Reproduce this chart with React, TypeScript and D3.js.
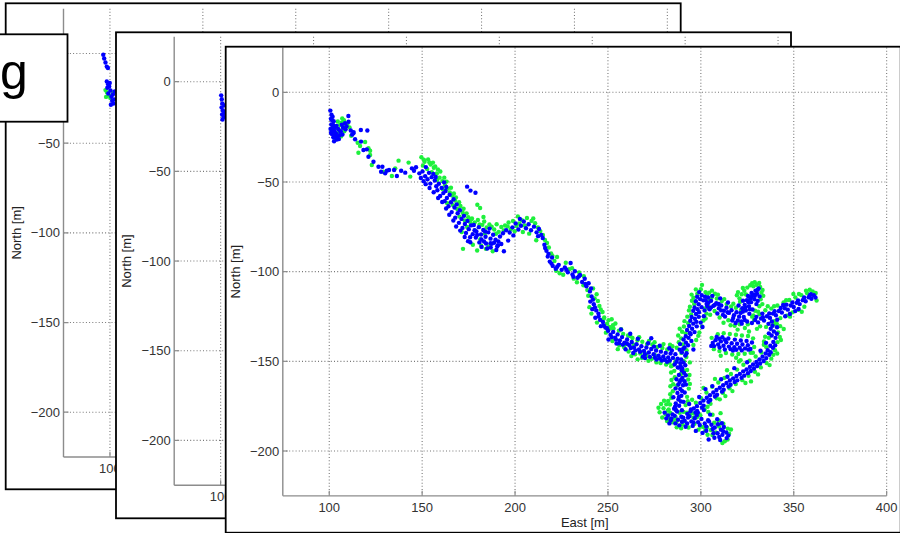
import React from 'react';
import * as d3 from 'd3';

type Pt = [number, number]; // [east, north] in metres

const eastTicks = [100, 150, 200, 250, 300, 350, 400];
const northTicks = [0, -50, -100, -150, -200];
const eastDomain: [number, number] = [75, 400];
const northDomain: [number, number] = [-225, 25];

// Run 1 (back sheet): only the start of the track is visible
const run1Blue: Pt[] = [
  [96.4, -0.7], [96.9, -2.8], [97.6, -5.0], [98.3, -7.3], [98.9, -8.1],
  [98.3, -15.6], [99.0, -17.2], [98.6, -19.1], [99.6, -18.4], [100.3, -20.6],
  [99.1, -22.3], [100.8, -24.1], [101.6, -22.8], [102.3, -25.6], [101.9, -27.9],
  [102.6, -21.2], [99.9, -16.4], [100.5, -28.6], [101.2, -26.4],
];
const run1Green: Pt[] = [
  [97.6, -20.4], [98.4, -21.7], [99.3, -23.3], [100.6, -23.6], [101.8, -21.7], [100.2, -24.8], [97.9, -24.2],
];

// Run 2 (middle sheet)
const run2Blue: Pt[] = [
  [100.3, -7.6], [100.6, -9.8], [100.9, -12.1], [100.5, -14.4], [101.2, -16.0],
  [100.8, -18.3], [101.6, -19.7], [101.0, -21.1], [102.0, -13.2], [101.9, -17.4],
];

// Run 3 (front sheet): full track, two position estimates
const run3Blue: Pt[] = [
  // start cluster
  [100.6, -10.2], [101.2, -12.5], [100.9, -14.8], [101.8, -13.6], [102.4, -16.1], [101.1, -17.9], [100.7, -20.4],
  [101.9, -19.3], [102.8, -21.6], [101.4, -23.2], [102.2, -25.1], [103.3, -24.4], [104.1, -26.3], [103.6, -22.8],
  [104.8, -20.5], [103.9, -18.7], [105.6, -23.9], [106.2, -21.7], [107.4, -19.8], [108.5, -17.2], [109.3, -18.9],
  [110.4, -16.4], [108.8, -20.6], [107.1, -23.5], [105.2, -26.1], [106.8, -18.1], [110.3, -13.2], [111.6, -21.3],
  [112.3, -23.6], [113.1, -22.2], [117.0, -21.0], [120.5, -21.3], [102.6, -27.3], [100.9, -22.6], [103.0, -19.6],
  [101.5, -15.6], [102.1, -18.2], [101.6, -21.2], [102.9, -23.9], [104.4, -24.6], [105.9, -21.9],
  // sparse trail
  [113.0, -22.9], [113.9, -26.2], [117.1, -27.5], [118.4, -32.2], [120.2, -31.8], [121.1, -35.9], [123.8, -38.7],
  [126.5, -41.5], [128.6, -41.5], [131.0, -43.7], [130.1, -45.2], [134.9, -43.3], [138.7, -43.7], [140.9, -44.8],
  [144.5, -42.4], [146.7, -41.8], [145.6, -43.7], [136.4, -46.7], [127.9, -44.3], [132.2, -43.3],
  // descent to 175 E
  [148.5, -45.2], [150.2, -44.1], [151.6, -46.8], [152.9, -48.5], [150.8, -49.6], [153.7, -44.9], [155.1, -47.3],
  [154.4, -50.9], [156.8, -49.2], [157.6, -52.4], [159.0, -51.0], [158.2, -54.6], [160.5, -53.3], [161.4, -56.2],
  [159.7, -57.8], [162.6, -55.0], [163.3, -58.9], [164.8, -57.1], [162.1, -60.7], [165.5, -61.3], [164.2, -63.5],
  [166.9, -59.6], [167.4, -64.2], [165.9, -66.8], [168.6, -62.5], [169.1, -67.4], [167.8, -69.9], [170.3, -65.8],
  [171.2, -70.6], [169.8, -72.8], [172.5, -68.9], [173.0, -73.4], [171.7, -75.6], [174.4, -71.7], [175.1, -76.3],
  [173.6, -78.4], [176.3, -74.2], [177.2, -79.1], [175.8, -80.8], [152.0, -41.7], [156.0, -45.5], [161.8, -50.2],
  [174.2, -52.6], [178.7, -56.0], [176.0, -54.8],
  [149.3, -47.8], [151.9, -51.2], [154.0, -53.4], [156.2, -55.7], [158.6, -58.9], [160.8, -61.2], [162.9, -64.8],
  [164.6, -68.3], [166.8, -71.5], [168.3, -74.8], [170.5, -77.1], [172.9, -80.7], [174.7, -83.0], [157.3, -47.2],
  [163.0, -52.8],
  // shelf at -78 N
  [177.8, -74.0], [179.2, -77.6], [180.5, -75.2], [181.7, -79.3], [182.9, -76.8], [184.1, -80.5], [183.3, -83.2],
  [185.6, -78.1], [186.8, -81.6], [188.2, -79.4], [187.4, -84.5], [189.5, -82.2], [190.8, -85.3], [178.9, -81.0],
  [180.8, -83.7], [182.0, -86.2], [185.0, -87.1], [191.9, -80.4], [193.5, -78.6], [195.2, -76.9], [197.1, -78.2],
  [198.6, -75.3], [200.3, -73.1], [201.8, -76.5], [203.2, -74.4], [204.7, -72.0], [205.9, -75.8], [207.3, -73.6],
  [208.6, -76.9], [210.2, -74.9], [211.6, -78.1], [212.9, -76.2], [214.1, -79.5], [194.0, -88.6], [202.6, -70.6],
  [189.9, -87.9], [196.3, -82.7], [199.1, -79.8], [175.9, -83.6], [186.3, -76.0], [190.4, -86.0], [186.8, -84.2],
  [179.6, -79.5], [181.9, -82.1], [184.4, -84.3], [186.9, -86.6], [188.7, -83.9], [191.0, -83.1], [192.6, -84.6],
  [183.9, -77.6], [178.2, -76.9],
  // descent to the junction
  [214.9, -81.2], [215.8, -85.0], [216.9, -88.4], [217.6, -91.6], [218.7, -94.4], [220.3, -96.8], [221.9, -98.4],
  [223.5, -96.2], [225.1, -99.0], [226.8, -97.6], [228.4, -100.3], [229.9, -95.2], [230.9, -101.6], [232.2, -99.8],
  [233.6, -103.4], [235.0, -101.9], [236.1, -105.8], [237.5, -104.0], [238.4, -108.1], [239.6, -106.5], [240.3, -111.0],
  [241.2, -113.8], [240.5, -116.7], [242.4, -118.2], [241.6, -120.9], [243.7, -121.6], [244.9, -123.4], [243.2, -125.7],
  [245.8, -126.9], [247.3, -128.1], [246.2, -130.4], [248.6, -131.2], [250.1, -133.0], [212.4, -80.2], [219.9, -92.1],
  [216.2, -86.8], [218.0, -90.1], [219.6, -95.5], [222.7, -97.3], [227.6, -98.9], [231.4, -102.9], [234.4, -102.6],
  [237.9, -106.9], [240.9, -109.3], [241.9, -115.6], [243.0, -119.9], [245.0, -125.0], [247.8, -130.0], [249.5, -131.6],
  [251.4, -135.2], [252.8, -133.6], [253.9, -136.8], [255.2, -135.0], [256.4, -138.3], [257.6, -136.5], [258.9, -139.6],
  [260.3, -137.8], [261.5, -141.0], [262.8, -139.2], [264.0, -142.3], [265.4, -140.5], [266.7, -143.4], [268.0, -141.6],
  [269.4, -144.2], [270.7, -142.3], [272.0, -145.1], [273.3, -143.1], [274.6, -146.0], [275.9, -144.0], [277.2, -146.8],
  [278.5, -144.6], [279.8, -147.3], [281.1, -145.3], [282.4, -147.8], [283.7, -145.6], [285.0, -148.1], [286.3, -146.0],
  [287.5, -148.6], [273.3, -137.1], [259.5, -143.3], [263.6, -145.4], [268.8, -147.4], [276.1, -149.0], [281.8, -150.2],
  [285.9, -151.8], [288.2, -153.5], [254.6, -140.1], [266.1, -137.4], [271.6, -139.9], [277.9, -141.3], [283.0, -142.7],
  [288.6, -143.5], [257.0, -132.2], [262.0, -134.6], [250.3, -137.8], [279.0, -149.6], [270.0, -148.2], [284.4, -144.0],
  [274.8, -141.8],
  [252.0, -136.5], [254.3, -137.9], [256.0, -139.9], [258.0, -140.7], [260.2, -140.1], [262.3, -142.6], [264.8, -143.9],
  [267.3, -144.7], [269.9, -146.0], [272.6, -147.5], [275.3, -147.9], [278.0, -148.4], [280.6, -149.1], [283.3, -149.5],
  [286.9, -150.3], [289.4, -148.9], [290.6, -150.6],
  // northward branch
  [289.8, -144.9], [291.2, -142.3], [292.0, -139.6], [290.7, -137.8], [293.4, -136.9], [294.1, -134.2], [292.6, -132.5],
  [295.3, -131.8], [295.9, -129.0], [294.3, -127.4], [296.8, -126.3], [297.4, -123.6], [295.9, -121.8], [298.2, -120.9],
  [298.8, -118.2], [297.3, -116.5], [299.6, -115.3], [300.5, -113.2], [301.3, -116.0], [299.1, -111.4], [293.1, -141.0],
  [296.6, -133.7], [298.9, -125.2], [300.4, -119.8], [291.6, -146.8], [294.9, -138.6], [297.8, -130.5], [302.0, -121.6],
  [301.6, -124.8], [288.8, -140.4], [303.1, -118.0], [296.0, -143.4], [299.9, -128.4], [300.9, -130.9], [302.2, -113.9],
  [290.5, -143.0], [291.9, -136.0], [293.7, -130.3], [295.0, -125.3], [296.6, -120.0], [298.0, -114.0], [297.6, -128.0],
  [299.0, -122.6], [294.5, -134.9], [292.3, -145.5],
  // top edge of the loop
  [302.6, -115.9], [304.1, -117.3], [305.5, -116.2], [306.8, -119.0], [308.3, -117.6], [309.7, -120.4], [311.0, -118.9],
  [312.4, -121.8], [313.8, -120.1], [315.1, -123.0], [316.5, -121.5], [317.8, -124.3], [319.2, -122.6], [320.6, -125.1],
  [304.7, -121.0], [308.9, -123.3], [313.0, -125.0], [316.9, -127.2], [310.4, -114.9], [306.2, -113.5], [318.7, -128.6],
  [321.8, -127.7], [303.5, -119.4], [311.9, -124.1], [314.6, -117.2],
  [303.9, -114.4], [307.5, -118.5], [310.9, -121.6], [314.4, -122.6], [317.4, -125.8], [319.9, -127.2], [305.5, -119.9],
  [309.6, -118.0],
  // spur to the north-east
  [321.4, -123.0], [322.3, -120.4], [323.6, -118.5], [322.7, -116.2], [324.8, -115.9], [325.4, -113.6], [326.7, -114.8],
  [327.3, -111.9], [328.5, -112.8], [329.4, -110.6], [330.2, -112.3], [331.1, -109.4], [324.2, -121.7], [325.9, -119.2],
  [327.0, -117.0], [328.8, -115.4], [323.1, -125.3], [326.1, -123.5], [329.9, -118.1], [320.3, -118.9], [331.6, -113.8],
  [322.0, -129.0], [324.9, -127.8], [327.8, -121.1], [330.6, -116.3],
  [322.6, -122.3], [324.0, -119.9], [325.5, -116.9], [327.4, -114.0], [329.1, -113.5], [330.6, -110.1], [323.6, -127.0],
  [326.4, -120.9],
  // eastern arm
  [327.5, -128.6], [329.2, -127.0], [330.8, -128.3], [332.4, -126.1], [334.0, -127.2], [335.6, -124.9], [337.2, -125.8],
  [338.8, -123.4], [340.4, -124.3], [342.0, -121.9], [343.6, -122.8], [345.2, -120.4], [346.8, -121.2], [348.4, -118.9],
  [350.0, -119.7], [351.6, -117.4], [353.2, -118.1], [354.8, -115.9], [356.4, -116.5], [358.0, -114.3], [359.5, -115.1],
  [360.8, -113.2], [361.7, -114.4], [359.2, -112.6], [336.4, -129.1], [341.1, -126.8], [347.9, -123.6], [352.6, -120.8],
  [333.1, -123.4], [344.3, -118.6],
  [329.9, -125.2], [333.4, -125.4], [336.8, -123.3], [339.7, -122.1], [343.0, -120.3], [346.1, -118.4], [349.3, -117.2],
  [352.3, -116.1], [355.6, -114.4], [358.7, -113.1], [338.2, -127.8], [345.4, -124.9], [350.8, -122.0],
  // south-west return
  [337.6, -131.8], [339.3, -133.4], [338.1, -135.6], [340.2, -136.9], [339.0, -139.2], [337.4, -141.3], [338.8, -142.5],
  [336.0, -143.8], [334.9, -145.6], [336.8, -146.3], [333.2, -147.4], [331.6, -148.9], [333.8, -149.8], [329.9, -150.4],
  [328.1, -151.8], [330.3, -152.6], [326.4, -153.1], [324.6, -154.5], [326.9, -155.4], [322.8, -155.6], [321.0, -157.0],
  [323.3, -158.0], [319.2, -158.2], [317.4, -159.5], [319.6, -160.6], [315.6, -160.7], [313.8, -162.1], [316.0, -163.1],
  [312.0, -163.3], [310.2, -164.7], [312.3, -165.8], [308.4, -166.0], [306.7, -167.4], [308.7, -168.6], [304.9, -168.9],
  [303.2, -170.3], [305.1, -171.6], [301.4, -171.9], [299.7, -173.2], [301.5, -174.7], [297.9, -175.0], [296.2, -176.3],
  [298.0, -177.7], [294.4, -177.9], [292.7, -179.3], [341.0, -131.0], [335.1, -139.7], [318.0, -153.8], [310.9, -160.0],
  [302.5, -165.5],
  [338.6, -130.1], [340.9, -134.6], [340.0, -141.1], [337.6, -144.9], [335.2, -148.2], [331.9, -151.2], [328.6, -154.0],
  [325.3, -156.6], [321.9, -159.2], [318.2, -161.5], [314.9, -164.1], [311.4, -166.9], [307.6, -169.6], [304.1, -172.5],
  [300.6, -175.8], [297.1, -178.6], [293.8, -180.6], [336.6, -134.4], [332.1, -144.1], [324.9, -150.5], [314.3, -158.6],
  [306.2, -163.8], [299.1, -169.9],
  // inner arm
  [306.4, -139.8], [307.9, -138.2], [309.3, -140.6], [310.8, -138.9], [312.2, -141.3], [313.7, -139.4], [315.1, -141.8],
  [316.6, -139.9], [318.0, -142.1], [319.5, -140.2], [320.9, -142.4], [322.4, -140.6], [323.8, -142.8], [325.3, -141.0],
  [326.7, -143.1], [308.5, -136.4], [311.6, -136.6], [314.8, -137.3], [318.3, -137.9], [321.5, -138.4], [324.6, -138.6],
  [327.5, -139.5], [305.6, -141.4], [317.3, -144.0], [312.9, -143.4],
  [307.1, -141.5], [310.1, -142.3], [313.0, -138.0], [316.0, -143.2], [319.1, -143.6], [322.0, -143.9], [325.6, -143.5],
  [309.9, -137.4],
  // southward branch
  [288.9, -151.0], [287.6, -153.4], [289.7, -155.1], [288.2, -157.6], [290.1, -159.2], [288.6, -161.5], [290.4, -163.3],
  [288.9, -165.4], [287.4, -167.6], [289.5, -169.2], [287.9, -171.3], [286.5, -173.5], [288.3, -174.8], [285.6, -176.4],
  [287.2, -178.0], [291.6, -152.2], [291.9, -157.8], [292.0, -162.9], [286.9, -160.0], [286.4, -165.1], [291.3, -167.4],
  [285.2, -170.0], [290.7, -172.6], [284.8, -179.6], [289.8, -177.3],
  [289.2, -152.9], [290.9, -156.4], [289.4, -160.3], [291.2, -161.1], [289.9, -166.5], [288.2, -169.9], [289.3, -172.4],
  [286.1, -175.3], [287.9, -162.9], [290.0, -154.0],
  // southern end
  [280.5, -178.6], [282.3, -180.2], [284.1, -181.8], [285.9, -180.4], [287.7, -182.6], [289.5, -180.9], [291.3, -183.1],
  [293.1, -181.3], [294.9, -183.5], [296.7, -181.7], [298.5, -183.9], [300.3, -182.1], [302.1, -184.6], [303.9, -182.8],
  [305.7, -185.4], [307.5, -186.9], [309.2, -185.1], [310.8, -188.1], [312.4, -186.6], [313.7, -189.7], [311.6, -191.0],
  [313.9, -192.8], [309.9, -192.2], [306.8, -190.1], [304.2, -193.6], [302.9, -188.7], [305.0, -179.7], [301.6, -177.2],
  [298.4, -178.6], [294.7, -176.9], [295.6, -186.0], [291.8, -186.5], [288.4, -185.7], [283.1, -184.6], [286.6, -177.1],
  [293.7, -173.8], [308.8, -182.3], [311.3, -184.5], [300.9, -189.9], [297.3, -188.8],
  [281.4, -181.8], [283.8, -182.9], [286.3, -184.6], [289.8, -183.7], [292.6, -184.7], [296.0, -184.1], [299.4, -185.5],
  [302.9, -186.4], [306.4, -187.7], [309.0, -190.1], [312.0, -189.0], [314.8, -191.3], [310.4, -193.9], [307.3, -192.6],
  [304.4, -183.5], [297.8, -180.1], [290.5, -181.4],
];

const run3Green: Pt[] = [
  // start cluster
  [104.6, -16.3], [105.8, -18.2], [106.7, -16.9], [107.9, -15.6], [108.6, -18.8], [109.8, -17.5], [105.1, -20.8],
  [104.2, -22.9], [106.3, -24.6], [103.8, -25.8], [102.7, -23.5], [110.9, -19.6], [111.8, -24.2], [108.1, -21.7],
  [107.0, -14.6],
  // sparse trail
  [115.3, -28.1], [119.3, -27.7], [115.7, -33.7], [122.0, -32.6], [122.0, -35.0], [122.9, -40.5], [129.2, -44.3],
  [135.5, -42.4], [137.3, -38.1], [142.7, -39.2], [143.6, -47.0], [133.7, -46.7], [121.1, -31.2], [116.6, -29.9],
  // descent to 175 E
  [149.6, -36.2], [151.3, -38.7], [153.2, -37.4], [150.4, -40.9], [154.6, -40.3], [152.7, -42.8], [156.3, -42.1],
  [155.2, -44.6], [157.9, -45.3], [159.4, -47.6], [158.1, -48.9], [160.9, -49.5], [162.3, -51.8], [161.0, -53.9],
  [163.8, -53.7], [164.9, -55.9], [163.5, -61.8], [166.2, -57.6], [167.7, -60.3], [166.6, -62.9], [168.9, -65.1],
  [170.6, -63.4], [171.8, -67.2], [170.1, -69.3], [172.9, -71.4], [174.8, -69.7], [176.0, -72.8], [174.2, -75.1],
  [171.3, -77.9], [178.5, -77.0], [179.7, -62.7], [181.2, -64.5], [158.5, -43.0], [155.8, -39.2], [172.0, -87.3],
  [150.9, -37.6], [153.9, -39.1], [157.0, -41.3], [159.8, -44.2], [161.9, -47.6], [163.2, -49.8], [165.5, -53.2],
  [167.1, -56.4], [168.2, -58.6], [169.9, -61.3], [172.3, -64.9], [173.9, -67.5], [176.8, -70.4],
  // shelf at -78 N
  [176.4, -70.8], [178.3, -72.5], [180.0, -71.2], [182.4, -73.9], [184.7, -75.4], [181.3, -81.9], [183.8, -78.7],
  [186.2, -73.7], [188.8, -76.5], [191.2, -77.8], [192.6, -75.1], [177.3, -85.0], [179.6, -88.2], [185.8, -85.9],
  [188.0, -88.6], [194.6, -74.3], [196.5, -72.6], [198.9, -71.8], [200.8, -74.6], [203.7, -71.3], [206.4, -70.1],
  [208.9, -71.7], [210.8, -73.0], [207.6, -78.8], [212.3, -75.4], [199.8, -77.5], [197.7, -76.4], [190.1, -73.6],
  [183.0, -69.5], [204.2, -77.9],
  [180.9, -73.7], [183.4, -72.0], [187.4, -74.9], [189.8, -78.9], [193.9, -77.0], [196.0, -74.8], [202.2, -73.1],
  [205.2, -74.3], [209.8, -70.3], [201.5, -69.2], [181.8, -85.6], [184.3, -87.3],
  // descent to the junction
  [213.6, -77.4], [216.1, -82.3], [218.2, -86.5], [219.4, -89.8], [221.2, -94.1], [224.0, -100.9], [227.3, -95.0],
  [229.1, -98.6], [231.6, -103.9], [234.5, -100.4], [236.8, -107.6], [238.9, -110.3], [242.0, -109.4], [243.9, -112.6],
  [244.6, -116.4], [242.8, -114.9], [245.4, -119.1], [247.1, -122.5], [244.1, -128.4], [248.0, -125.6], [249.5, -129.0],
  [251.3, -131.6], [240.0, -119.8], [222.6, -91.8], [211.4, -82.5],
  [215.0, -79.6], [217.2, -84.0], [220.1, -91.2], [222.1, -99.5], [225.9, -101.7], [230.7, -98.1], [233.3, -105.9],
  [237.0, -102.5], [239.4, -113.4], [241.1, -123.4], [246.1, -121.1], [250.3, -127.1],
  [250.8, -130.8], [253.0, -131.7], [255.9, -132.9], [258.2, -134.7], [260.8, -135.6], [263.2, -137.0], [265.9, -138.3],
  [268.5, -139.1], [271.0, -140.4], [273.9, -140.6], [276.5, -142.0], [279.3, -142.6], [281.9, -143.4], [284.7, -141.6],
  [287.0, -142.4], [252.4, -138.7], [256.1, -141.1], [258.6, -142.0], [261.1, -144.5], [264.6, -146.1], [267.4, -145.7],
  [270.9, -147.0], [273.6, -148.6], [277.0, -148.2], [280.4, -148.9], [282.9, -150.7], [286.6, -149.6], [275.2, -146.4],
  [269.7, -145.2], [260.0, -140.4], [289.5, -145.3], [254.0, -128.9], [248.9, -134.0], [278.3, -150.9], [263.9, -140.8],
  [291.0, -155.5], [284.0, -152.8], [252.0, -126.5], [266.0, -148.9], [247.7, -126.2],
  [252.7, -129.9], [257.1, -132.1], [262.0, -135.9], [266.8, -136.6], [272.1, -138.7], [275.1, -139.4], [279.9, -140.4],
  [283.4, -140.8], [255.3, -143.2], [262.6, -147.1], [268.3, -148.1], [271.8, -149.7], [276.1, -150.6], [281.3, -151.8],
  // northward branch
  [290.4, -140.6], [289.4, -137.2], [291.8, -134.4], [290.9, -130.6], [293.2, -128.8], [292.7, -125.1], [294.8, -123.9],
  [294.1, -119.6], [296.4, -118.1], [296.0, -114.5], [298.1, -112.3], [300.0, -109.8], [302.5, -111.4], [297.5, -138.1],
  [299.2, -133.9], [301.4, -127.2], [303.0, -123.4], [304.2, -120.6], [287.8, -135.6], [288.6, -131.8], [292.3, -143.8],
  [304.8, -116.1], [300.6, -107.4], [295.2, -116.2], [298.6, -135.8],
  [288.1, -139.3], [289.9, -133.5], [291.2, -127.6], [293.6, -121.6], [295.0, -112.8], [297.3, -109.9], [300.6, -130.6],
  [302.6, -126.1], [303.9, -119.3], [296.0, -140.9],
  // top edge of the loop
  [303.3, -112.9], [305.9, -114.1], [308.6, -115.0], [311.3, -116.4], [313.9, -118.1], [316.3, -119.4], [318.9, -120.1],
  [307.4, -121.9], [310.1, -125.6], [314.8, -127.1], [318.2, -130.2], [320.9, -129.3], [305.0, -124.0], [312.2, -128.5],
  [306.0, -110.6], [321.6, -121.3], [309.2, -112.8], [302.1, -120.5], [316.0, -129.9], [319.8, -132.3],
  [304.5, -111.7], [307.6, -112.3], [312.6, -115.3], [317.5, -117.9],
  // spur to the north-east
  [320.8, -114.9], [322.0, -112.6], [323.4, -110.7], [325.0, -108.9], [326.6, -107.6], [328.3, -108.2], [330.0, -107.3],
  [331.9, -108.5], [332.6, -111.7], [332.2, -115.4], [331.5, -119.3], [329.2, -121.8], [327.6, -125.1], [325.3, -129.3],
  [323.7, -131.4], [321.1, -116.8], [319.4, -113.2], [333.2, -110.2], [329.0, -105.9], [326.3, -116.3], [324.3, -112.7],
  [328.6, -127.0],
  [320.0, -111.4], [322.6, -109.1], [327.6, -106.4], [331.4, -106.3], [333.6, -113.5], [333.1, -118.1], [330.8, -122.3],
  // eastern arm
  [328.3, -124.4], [331.6, -123.7], [334.7, -121.5], [337.9, -120.6], [341.2, -118.9], [344.5, -117.2], [347.6, -115.8],
  [350.9, -114.4], [354.1, -113.1], [357.2, -112.0], [339.6, -127.6], [342.8, -125.9], [346.1, -124.5], [349.3, -122.7],
  [352.5, -121.3], [355.7, -119.6], [331.9, -130.5], [335.1, -130.8], [325.9, -133.4], [330.2, -131.9], [338.4, -130.2],
  [356.6, -110.6], [360.2, -111.0], [349.8, -112.5], [336.0, -119.3],
  [339.4, -119.3], [345.9, -115.9], [352.8, -112.5], [358.6, -110.1], [340.9, -129.2], [348.0, -125.1], [354.3, -122.4],
  [361.8, -111.9], [362.3, -116.1],
  // south-west return
  [339.4, -129.0], [341.6, -133.9], [341.2, -139.3], [339.9, -143.8], [337.9, -148.5], [335.4, -150.9], [332.3, -153.4],
  [329.1, -155.8], [325.7, -158.1], [322.3, -160.5], [318.8, -162.7], [315.4, -165.0], [311.9, -167.6], [308.5, -170.6],
  [305.2, -173.7], [302.0, -176.9], [299.1, -179.8], [296.0, -181.4], [336.6, -136.9], [335.3, -142.1], [332.6, -145.1],
  [329.5, -147.3], [326.2, -149.6], [322.9, -151.9], [319.5, -154.6], [316.2, -157.1], [312.7, -159.2], [309.4, -161.8],
  [306.1, -164.2], [303.0, -167.4], [300.1, -170.5], [297.3, -173.1], [342.5, -136.4], [339.0, -146.3], [327.0, -161.2],
  [313.2, -169.4], [304.0, -178.2], [344.6, -132.0], [334.0, -138.9], [320.5, -150.1],
  [342.7, -130.4], [343.1, -138.1], [341.1, -145.6], [337.0, -152.1], [330.8, -157.3], [324.0, -162.1], [317.0, -166.6],
  [310.2, -171.2], [303.6, -175.3], [297.8, -180.5], [334.6, -136.3], [333.9, -140.8], [328.0, -145.2], [321.4, -149.4],
  [314.1, -155.0], [307.6, -159.8], [301.4, -164.9], [295.3, -171.4],
  // inner arm
  [307.0, -143.2], [310.0, -144.3], [313.5, -145.4], [316.9, -146.2], [320.2, -145.9], [323.6, -145.8], [326.8, -145.2],
  [328.7, -142.0], [328.1, -137.2], [325.4, -135.9], [322.1, -135.6], [318.9, -135.2], [315.6, -134.8], [312.3, -134.3],
  [309.1, -134.9], [305.8, -136.9], [319.0, -148.0], [310.7, -146.9],
  // southward branch
  [286.2, -150.8], [285.7, -155.3], [286.0, -158.9], [285.1, -162.8], [284.9, -166.7], [284.1, -170.4], [283.4, -174.1],
  [290.9, -149.9], [292.6, -154.8], [293.2, -160.1], [293.5, -165.2], [292.6, -169.8], [291.8, -174.4], [287.3, -163.4],
  [289.2, -157.1], [282.2, -177.5], [286.4, -181.0], [284.0, -156.2], [294.1, -150.6], [283.6, -163.9],
  [284.6, -152.3], [284.2, -160.4], [283.5, -168.3], [293.9, -157.6], [294.1, -162.6], [293.0, -172.2], [282.4, -172.1],
  [292.2, -147.6],
  // southern end
  [278.6, -173.8], [279.9, -176.2], [281.4, -174.0], [282.7, -176.9], [281.0, -179.6], [279.2, -181.3], [283.6, -178.8],
  [284.9, -184.0], [286.8, -183.9], [288.6, -178.7], [290.7, -178.2], [292.5, -178.7], [294.2, -179.5], [296.1, -179.0],
  [297.9, -181.2], [299.7, -180.0], [301.5, -186.6], [303.3, -186.9], [305.4, -188.3], [307.2, -184.2], [309.6, -183.0],
  [312.1, -184.8], [314.5, -187.5], [315.2, -190.4], [312.9, -194.6], [308.1, -189.6], [303.6, -190.9], [299.8, -186.4],
  [296.6, -184.8], [290.2, -185.2], [287.0, -186.8], [281.8, -183.3], [277.8, -178.4], [310.6, -178.9], [306.3, -179.8],
  [277.2, -175.9], [280.2, -172.0], [282.9, -182.0], [285.6, -182.3], [289.4, -187.3], [293.4, -186.9], [298.7, -188.1],
  [302.4, -188.6], [306.2, -191.1], [311.6, -195.5], [314.4, -193.6], [316.2, -188.0], [309.8, -186.4],
];

const WIDTH = 900;
const HEIGHT = 533;
const SHEET_W = 675;
const SHEET_H = 486;
const PX_PER_EAST = 1.858;
const PX_PER_NORTH = 1.7935;
const FONT = '"Liberation Sans", Arial, Helvetica, sans-serif';
const BLUE = '#0000ff';
const GREEN = '#1ef03c';
const GRID = '#777777';
const AXIS = '#8c8c8c';
const TEXT = '#333333';
const fmtTick = d3.format('d'); // d3 renders negatives with a true minus sign

interface Sheet {
  id: string;
  x: number;
  y: number;
  plotLeft: number;
  zeroY: number;
  blue: Pt[];
  green: Pt[];
}

const sheets: Sheet[] = [
  { id: 'run1', x: 5.7, y: 3.3, plotLeft: 63.5, zeroY: 53.5, blue: run1Blue, green: run1Green },
  { id: 'run2', x: 116, y: 32.3, plotLeft: 174.2, zeroY: 81.7, blue: run2Blue, green: [] },
  { id: 'run3', x: 225.7, y: 46.7, plotLeft: 282.8, zeroY: 92.3, blue: run3Blue, green: run3Green },
];

function TrackSheet({ s }: { s: Sheet }) {
  const left = s.plotLeft;
  const right = left + (eastDomain[1] - eastDomain[0]) * PX_PER_EAST;
  const top = s.zeroY - northDomain[1] * PX_PER_NORTH;
  const bottom = s.zeroY - northDomain[0] * PX_PER_NORTH;
  const x = d3.scaleLinear().domain(eastDomain).range([left, right]);
  const y = d3.scaleLinear().domain(northDomain).range([bottom, top]);
  const clipId = `clip-${s.id}`;
  const r = 2.2;

  return (
    <g>
      <defs>
        <clipPath id={clipId}>
          <rect x={s.x} y={s.y} width={SHEET_W} height={SHEET_H} />
        </clipPath>
      </defs>
      <rect x={s.x} y={s.y} width={SHEET_W} height={SHEET_H} fill="#fff" />
      <g clipPath={`url(#${clipId})`}>
        {/* dotted grid */}
        {eastTicks.map((t) => (
          <line key={`gx${t}`} x1={x(t)} x2={x(t)} y1={top} y2={bottom}
            stroke={GRID} strokeWidth={1.1} strokeDasharray="1 2.2" />
        ))}
        {northTicks.map((t) => (
          <line key={`gy${t}`} x1={left} x2={right} y1={y(t)} y2={y(t)}
            stroke={GRID} strokeWidth={1.1} strokeDasharray="1 2.2" />
        ))}
        {/* position estimates */}
        <g fill={GREEN}>
          {s.green.map((p, i) => (
            <circle key={`g${i}`} cx={x(p[0])} cy={y(p[1])} r={r} />
          ))}
        </g>
        <g fill={BLUE}>
          {s.blue.map((p, i) => (
            <circle key={`b${i}`} cx={x(p[0])} cy={y(p[1])} r={r} />
          ))}
        </g>
        {/* axes */}
        <line x1={left} x2={left} y1={top} y2={bottom} stroke={AXIS} strokeWidth={1.4} />
        <line x1={left} x2={right} y1={bottom} y2={bottom} stroke={AXIS} strokeWidth={1.4} />
        {eastTicks.map((t) => (
          <g key={`tx${t}`}>
            <line x1={x(t)} x2={x(t)} y1={bottom} y2={bottom - 5} stroke={AXIS} strokeWidth={1.2} />
            <text x={x(t)} y={bottom + 16} textAnchor="middle" fontSize={13}
              fontFamily={FONT} fill={TEXT}>{fmtTick(t)}</text>
          </g>
        ))}
        {northTicks.map((t) => (
          <g key={`ty${t}`}>
            <line x1={left} x2={left + 5} y1={y(t)} y2={y(t)} stroke={AXIS} strokeWidth={1.2} />
            <text x={left - 3.5} y={y(t) + 4.6} textAnchor="end" fontSize={13}
              fontFamily={FONT} fill={TEXT}>{fmtTick(t)}</text>
          </g>
        ))}
        <text x={(left + right) / 2} y={bottom + 31} textAnchor="middle" fontSize={13}
          fontFamily={FONT} fill="#222">East [m]</text>
        <text transform={`translate(${left - 43},${(top + bottom) / 2}) rotate(-90)`}
          textAnchor="middle" fontSize={13} fontFamily={FONT} fill="#222">North [m]</text>
      </g>
      <rect x={s.x} y={s.y} width={SHEET_W} height={SHEET_H} fill="none"
        stroke="#000" strokeWidth={1.8} />
    </g>
  );
}

export default function App() {
  return (
    <svg width={WIDTH} height={HEIGHT} viewBox={`0 0 ${WIDTH} ${HEIGHT}`}
      style={{ position: 'fixed', left: 0, top: 0, background: '#fff' }}>
      <rect x={0} y={0} width={WIDTH} height={HEIGHT} fill="#fff" />
      {sheets.map((s) => (
        <TrackSheet key={s.id} s={s} />
      ))}
      {/* title box overlapping the back sheet */}
      <rect x={-5} y={34.3} width={72.5} height={87.4} fill="#fff" stroke="#000" strokeWidth={1.8} />
      <text x={0} y={89} fontSize={50} fontFamily={FONT} fill="#000">g</text>
    </svg>
  );
}
